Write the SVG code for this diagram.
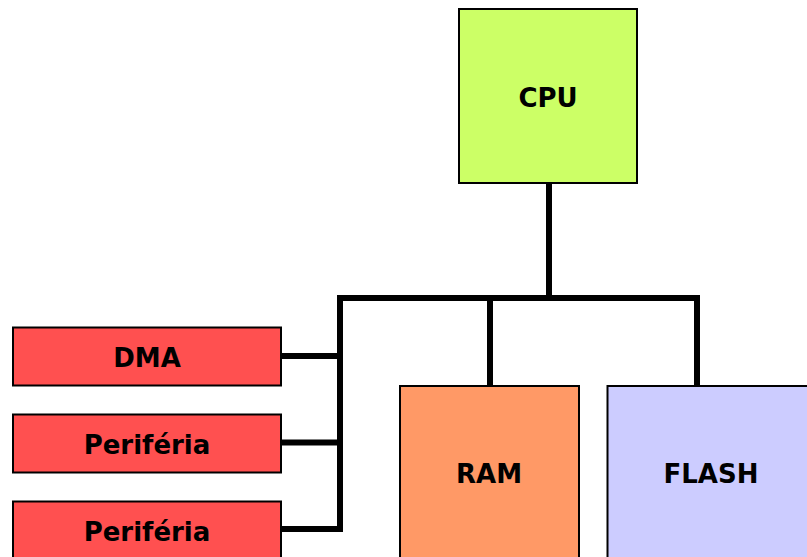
<svg xmlns="http://www.w3.org/2000/svg" width="807" height="557" viewBox="0 0 807 557">
  <style>
    .box { stroke: #000; stroke-width: 2; }
    .cpu { fill: #CCFF66; }
    .per { fill: #FF5050; }
    .ram { fill: #FF9966; }
    .flash { fill: #CCCCFF; }
    .label { font-family: "DejaVu Sans", Verdana, sans-serif; font-weight: bold; font-size: 26px; text-anchor: middle; fill: #000; }
    .bus { stroke: #000; stroke-width: 6; fill: none; stroke-linecap: butt; }
  </style>
  <rect width="807" height="557" fill="#fff"/>

  <!-- bus lines -->
  <g id="connectors">
    <line class="bus" x1="549" y1="183" x2="549" y2="298"/>
    <line class="bus" x1="340" y1="298" x2="700" y2="298"/>
    <line class="bus" x1="340" y1="295" x2="340" y2="532"/>
    <line class="bus" x1="490" y1="298" x2="490" y2="386"/>
    <line class="bus" x1="697" y1="298" x2="697" y2="386"/>
    <line class="bus" x1="281" y1="356" x2="340" y2="356"/>
    <line class="bus" x1="281" y1="442.5" x2="340" y2="442.5"/>
    <line class="bus" x1="281" y1="529" x2="343" y2="529"/>
  </g>

  <g id="cpu">
    <rect class="box cpu" x="459" y="9" width="178" height="174"/>
    <text class="label" x="548" y="107">CPU</text>
  </g>

  <g id="dma">
    <rect class="box per" x="13" y="327.5" width="268" height="58"/>
    <text class="label" x="147" y="366.5">DMA</text>
  </g>

  <g id="periferia1">
    <rect class="box per" x="13" y="414.5" width="268" height="58"/>
    <text class="label" x="147" y="454">Periféria</text>
  </g>

  <g id="periferia2">
    <rect class="box per" x="13" y="501.5" width="268" height="70"/>
    <text class="label" x="147" y="540.5">Periféria</text>
  </g>

  <g id="ram">
    <rect class="box ram" x="400" y="386" width="179" height="190"/>
    <text class="label" x="489" y="483">RAM</text>
  </g>

  <g id="flash">
    <rect class="box flash" x="607.5" y="386" width="220" height="190"/>
    <text class="label" x="711" y="483">FLASH</text>
  </g>
</svg>
